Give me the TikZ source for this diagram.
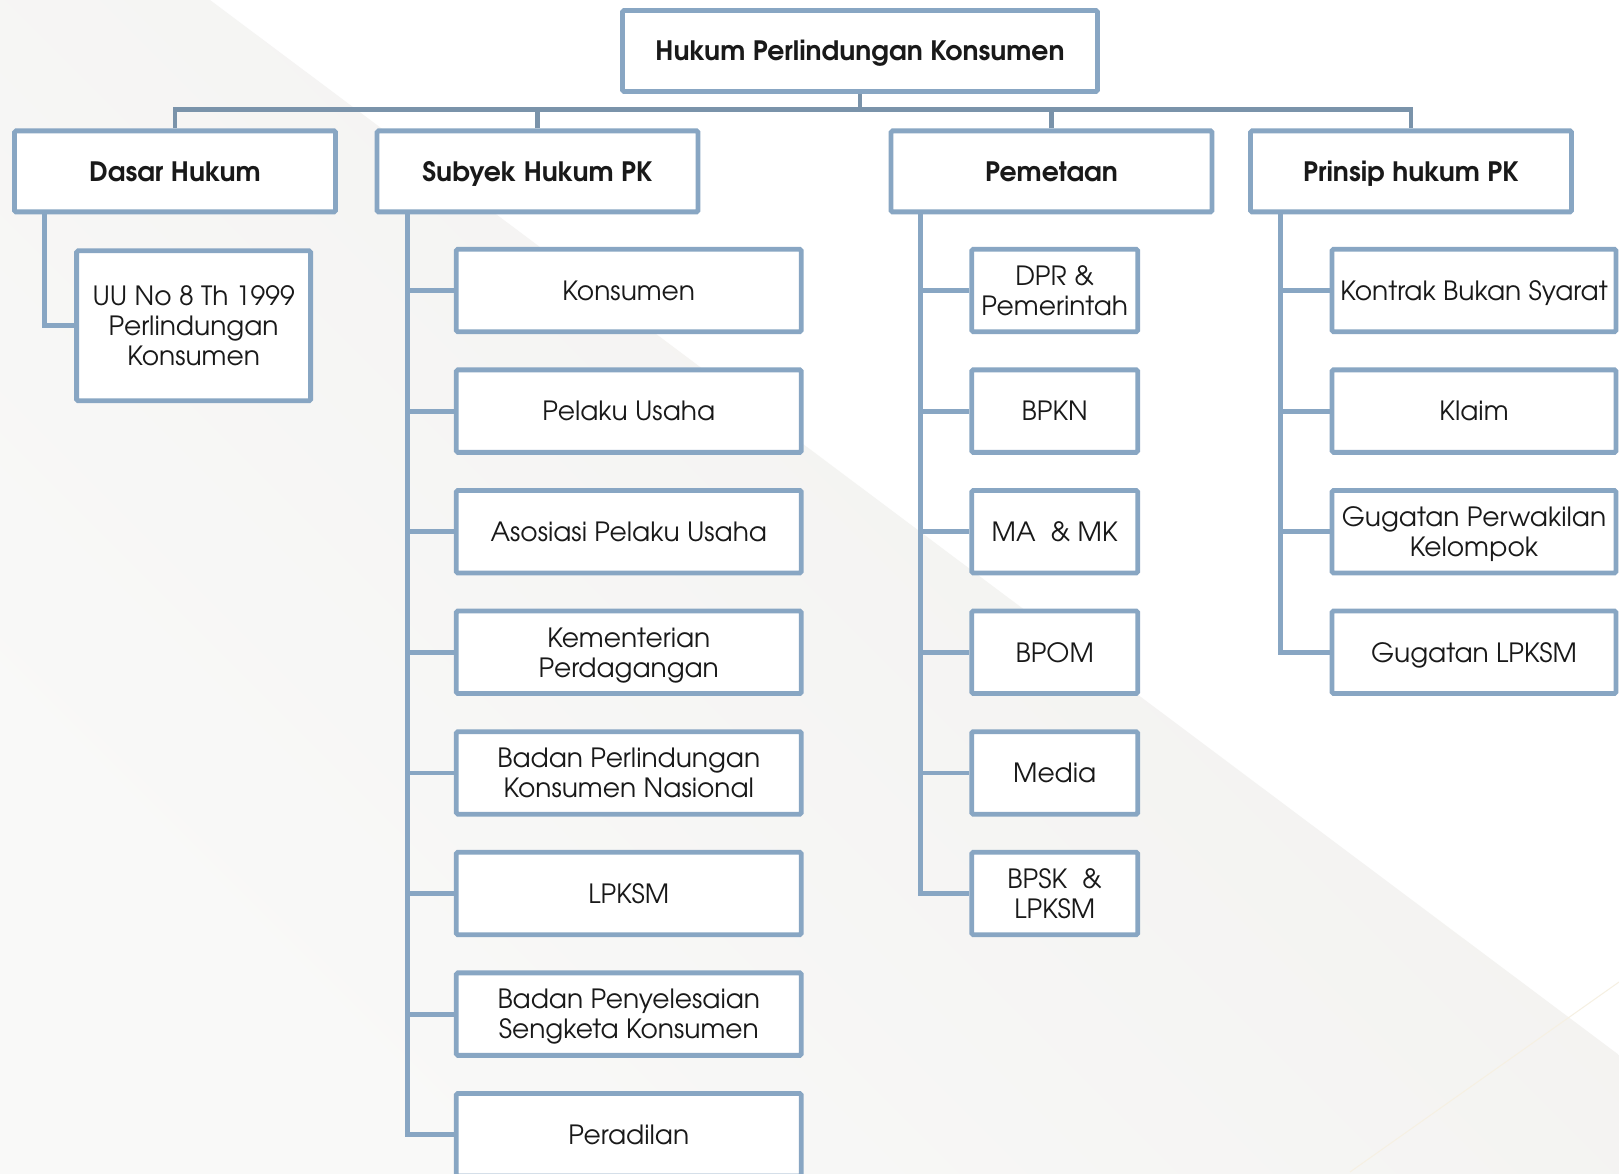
\documentclass[tikz,border=0pt]{standalone}
\usepackage{fontspec}
\setmainfont{texgyreadventor}[Extension=.otf,UprightFont=*-regular,BoldFont=*-bold]
\definecolor{boxline}{RGB}{136,166,195}
\definecolor{busline}{RGB}{122,147,170}
\definecolor{bgdark}{RGB}{241,240,238}
\definecolor{bglight}{RGB}{249,249,248}
\definecolor{faint}{RGB}{246,240,226}
\tikzset{
  orgbox/.style={draw=boxline,line width=4.8pt,fill=white,inner sep=0pt,align=center,
    rounded corners=1.5pt,text=black!90,font=\fontsize{26.5}{30}\selectfont},
  oneline/.style={text height=19.6pt,text depth=0pt},
  headbox/.style={orgbox,oneline,minimum width=321pt,minimum height=81pt,font=\bfseries\fontsize{26.7}{31}\selectfont},
  subbox/.style={orgbox,minimum width=345pt,minimum height=82.5pt},
  mapbox/.style={orgbox,minimum width=166pt,minimum height=82.5pt},
  prinbox/.style={orgbox,minimum width=284pt,minimum height=82.5pt},
  link/.style={draw=boxline,line width=4.8pt},
  buslink/.style={draw=busline,line width=4.5pt}
}
\begin{document}
\begin{tikzpicture}[x=1pt,y=-1pt]
\useasboundingbox (0,0) rectangle (1619,1174);
\clip (0,0) rectangle (1619,1174);
\fill[white] (0,0) rectangle (1619,1174);
\shade[top color=bgdark,bottom color=bglight,shading angle=-45]
  (0,0) -- (210,0) -- (1619,1055) -- (1619,1174) -- (0,1174) -- cycle;
\draw[faint,line width=1pt] (1350,1172) -- (1619,982);

\node[headbox,minimum width=475pt] (root) at (860,51) {Hukum Perlindungan Konsumen};
\node[headbox] (dasar) at (175,171.4) {Dasar Hukum};
\node[headbox] (subyek) at (537.5,171.4) {Subyek Hukum PK};
\node[headbox] (pemetaan) at (1051.5,171.4) {Pemetaan};
\node[headbox] (prinsip) at (1411,171.4) {Prinsip hukum PK};

\coordinate (bus) at (0,109.5);
\draw[buslink] (root.south) -- (root.south |- bus);
\draw[buslink] (dasar.north) -- (dasar.north |- bus) -- (prinsip.north |- bus) -- (prinsip.north);
\draw[buslink] (subyek.north) -- (subyek.north |- bus);
\draw[buslink] (pemetaan.north) -- (pemetaan.north |- bus);

\node[orgbox,minimum width=234pt,minimum height=150pt] (uu) at (193.6,325.8) {UU No 8 Th 1999\\Perlindungan\\Konsumen};
\draw[link] ([xshift=32pt]dasar.south west) |- (uu.west);

\node[subbox,oneline] (s1) at (628.8,290.5) {Konsumen};
\node[subbox,oneline] (s2) at (628.8,411.1) {Pelaku Usaha};
\node[subbox,oneline] (s3) at (628.8,531.7) {Asosiasi Pelaku Usaha};
\node[subbox,text depth=0pt] (s4) at (628.8,652.3) {Kementerian\\Perdagangan};
\node[subbox,text depth=0pt] (s5) at (628.8,772.9) {Badan Perlindungan\\Konsumen Nasional};
\node[subbox,oneline] (s6) at (628.8,893.5) {LPKSM};
\node[subbox,text depth=0pt] (s7) at (628.8,1014.1) {Badan Penyelesaian\\Sengketa Konsumen};
\node[subbox,oneline] (s8) at (628.8,1134.7) {Peradilan};
\foreach \n in {s1,s2,s3,s4,s5,s6,s7,s8}
  \draw[link] ([xshift=33pt]subyek.south west) |- (\n.west);

\node[mapbox] (m1) at (1054.7,290.5) {DPR \&\\Pemerintah};
\node[mapbox,oneline] (m2) at (1054.7,411.1) {BPKN};
\node[mapbox,oneline] (m3) at (1054.7,531.7) {MA \ \& MK};
\node[mapbox,oneline] (m4) at (1054.7,652.3) {BPOM};
\node[mapbox,oneline] (m5) at (1054.7,772.9) {Media};
\node[mapbox] (m6) at (1054.7,893.5) {BPSK \ \&\\LPKSM};
\foreach \n in {m1,m2,m3,m4,m5,m6}
  \draw[link] ([xshift=32pt]pemetaan.south west) |- (\n.west);

\node[prinbox,oneline] (p1) at (1474,290.5) {Kontrak Bukan Syarat};
\node[prinbox,oneline] (p2) at (1474,411.1) {Klaim};
\node[prinbox,text depth=0pt] (p3) at (1474,531.7) {Gugatan Perwakilan\\Kelompok};
\node[prinbox,oneline] (p4) at (1474,652.3) {Gugatan LPKSM};
\foreach \n in {p1,p2,p3,p4}
  \draw[link] ([xshift=32pt]prinsip.south west) |- (\n.west);
\end{tikzpicture}
\end{document}
